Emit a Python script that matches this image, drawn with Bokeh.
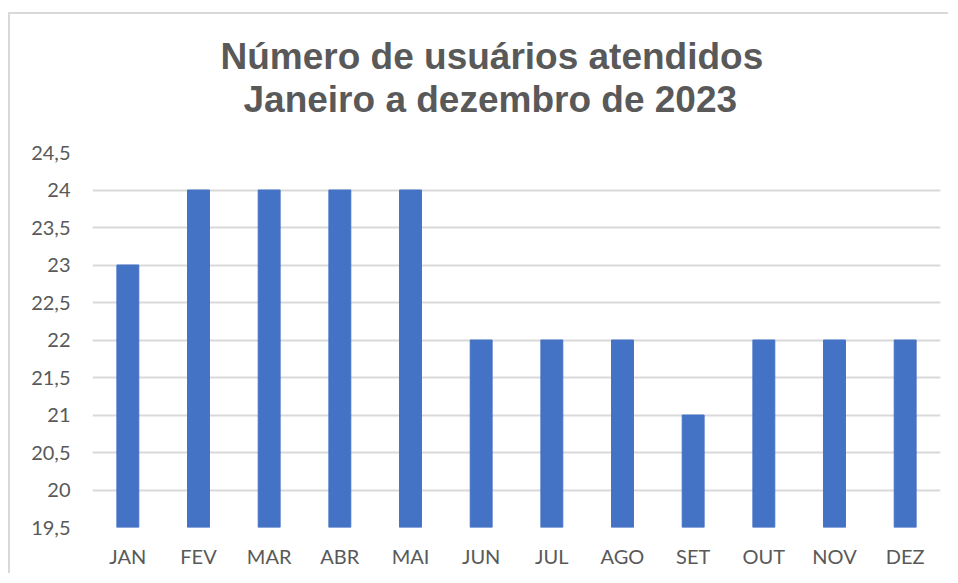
from bokeh.plotting import figure
from bokeh.models import ColumnDataSource, FactorRange, Range1d, FixedTicker, Title
from bokeh.embed import file_html
from bokeh.resources import INLINE

# ---- data ----
months = ["JAN", "FEV", "MAR", "ABR", "MAI", "JUN", "JUL", "AGO", "SET", "OUT", "NOV", "DEZ"]
users = [23, 24, 24, 24, 24, 22, 22, 22, 21, 22, 22, 22]
y_ticks = [19.5, 20, 20.5, 21, 21.5, 22, 22.5, 23, 23.5, 24, 24.5]
y_tick_labels = ["19,5", "20", "20,5", "21", "21,5", "22", "22,5", "23", "23,5", "24", "24,5"]
title_lines = ["Número de usuários atendidos", "Janeiro a dezembro de 2023"]

y_min, y_max = y_ticks[0], y_ticks[-1]

TEXT = "#595959"
GRID = "#d9d9d9"
BAR = "#4472C4"

source = ColumnDataSource(data=dict(month=months, users=users))

p = figure(
    x_range=FactorRange(*months),
    y_range=Range1d(y_min, y_max),
    width=940, height=561,
    output_backend="svg", toolbar_location=None,
    min_border_left=82, min_border_right=10,
    min_border_top=138, min_border_bottom=48,
)
p.margin = (12, 0, 0, 8)
p.styles = {"border-left": "2px solid #d9d9d9", "border-top": "2px solid #d9d9d9"}
p.outline_line_color = None
p.background_fill_color = "white"
p.border_fill_color = "white"

p.vbar(x="month", top="users", bottom=y_min, width=0.31, source=source,
       fill_color=BAR, line_color=BAR)

# axes
p.yaxis.ticker = FixedTicker(ticks=y_ticks)
p.yaxis.major_label_overrides = {t: l for t, l in zip(y_ticks, y_tick_labels)}
for ax in (p.xaxis[0], p.yaxis[0]):
    ax.axis_line_color = None
    ax.major_tick_line_color = None
    ax.minor_tick_line_color = None
    ax.major_tick_out = 0
    ax.major_tick_in = 0
    ax.major_label_text_color = TEXT
    ax.major_label_text_font = "Lato"
    ax.major_label_text_font_size = "20px"
p.yaxis.major_label_standoff = 22
p.xaxis.major_label_standoff = 16

p.xgrid.grid_line_color = None
p.ygrid.grid_line_color = GRID
p.ygrid.grid_line_width = 2
p.ygrid.ticker = FixedTicker(ticks=y_ticks)

# title (two lines): the first added sits closest to the plot
title_offsets = [128, 151]
title_standoffs = [-65, 65]
for txt, off, so in reversed(list(zip(title_lines, title_offsets, title_standoffs))):
    p.add_layout(Title(text=txt, align="left", offset=off,
                       text_font="Liberation Sans", text_font_style="bold",
                       text_font_size="37px", text_color=TEXT,
                       standoff=so), "above")

open("out.html", "w").write(file_html(p, INLINE))
